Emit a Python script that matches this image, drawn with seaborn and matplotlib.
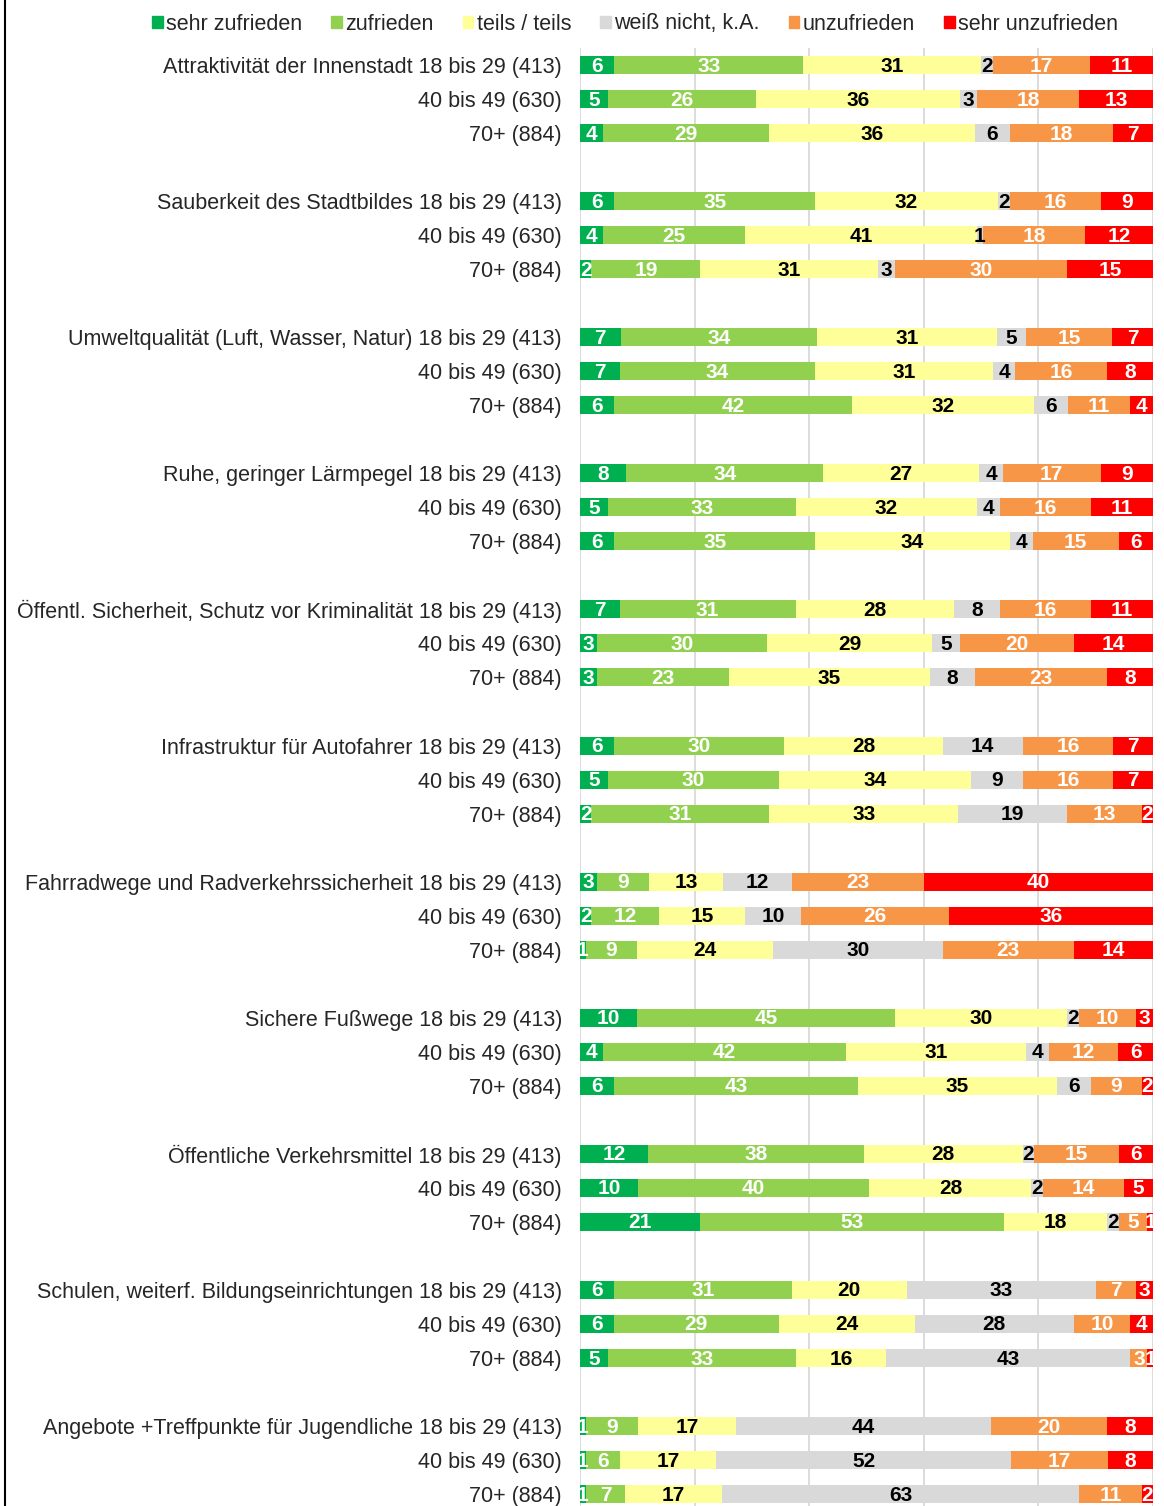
# Zufriedenheit nach Altersgruppen - gestapelte Balken (100 %)

import pandas as pd
import matplotlib.pyplot as plt
import matplotlib.lines as mlines
import matplotlib.patches as mpatches
import seaborn as sns

# Data
themes = [
    'Attraktivität der Innenstadt',
    'Sauberkeit des Stadtbildes',
    'Umweltqualität (Luft, Wasser, Natur)',
    'Ruhe, geringer Lärmpegel',
    'Öffentl. Sicherheit, Schutz vor Kriminalität',
    'Infrastruktur für Autofahrer',
    'Fahrradwege und Radverkehrssicherheit',
    'Sichere Fußwege',
    'Öffentliche Verkehrsmittel',
    'Schulen, weiterf. Bildungseinrichtungen',
    'Angebote +Treffpunkte für Jugendliche',
]
age_groups = ['18 bis 29 (413)', '40 bis 49 (630)', '70+ (884)']
categories = ['sehr zufrieden', 'zufrieden', 'teils / teils', 'weiß nicht, k.A.',
              'unzufrieden', 'sehr unzufrieden']

sehr_zufrieden = [6, 5, 4, 6, 4, 2, 7, 7, 6, 8, 5, 6, 7, 3, 3, 6, 5, 2,
                  3, 2, 1, 10, 4, 6, 12, 10, 21, 6, 6, 5, 1, 1, 1]
zufrieden = [33, 26, 29, 35, 25, 19, 34, 34, 42, 34, 33, 35, 31, 30, 23, 30, 30, 31,
             9, 12, 9, 45, 42, 43, 38, 40, 53, 31, 29, 33, 9, 6, 7]
teils = [31, 36, 36, 32, 41, 31, 31, 31, 32, 27, 32, 34, 28, 29, 35, 28, 34, 33,
         13, 15, 24, 30, 31, 35, 28, 28, 18, 20, 24, 16, 17, 17, 17]
weiss_nicht = [2, 3, 6, 2, 1, 3, 5, 4, 6, 4, 4, 4, 8, 5, 8, 14, 9, 19,
               12, 10, 30, 2, 4, 6, 2, 2, 2, 33, 28, 43, 44, 52, 63]
unzufrieden = [17, 18, 18, 16, 18, 30, 15, 16, 11, 17, 16, 15, 16, 20, 23, 16, 16, 13,
               23, 26, 23, 10, 12, 9, 15, 14, 5, 7, 10, 3, 20, 17, 11]
sehr_unzufrieden = [11, 13, 7, 9, 12, 15, 7, 8, 4, 9, 11, 6, 11, 14, 8, 7, 7, 2,
                    40, 36, 14, 3, 6, 2, 6, 5, 1, 3, 4, 1, 8, 8, 2]

colors = ['#00B050', '#92D050', '#FFFF99', '#D9D9D9', '#F79646', '#FF0000']
text_colors = ['white', 'white', 'black', 'black', 'white', 'white']

# Build table: one row per bar, with a blank slot between themes
values = pd.DataFrame({
    categories[0]: sehr_zufrieden,
    categories[1]: zufrieden,
    categories[2]: teils,
    categories[3]: weiss_nicht,
    categories[4]: unzufrieden,
    categories[5]: sehr_unzufrieden,
})
values['pos'] = [4 * (i // 3) + i % 3 for i in range(len(values))]
labels = []
for t in themes:
    labels += [t + ' ' + age_groups[0], age_groups[1], age_groups[2]]
values['label'] = labels

# Bars are shares of 100 % (rounded numbers do not always add to 100)
shares = values[categories].div(values[categories].sum(axis=1), axis=0) * 100
cum = shares.cumsum(axis=1)
cum['pos'] = values['pos']

sns.set_style('white')
plt.rcParams['font.family'] = ['Liberation Sans', 'DejaVu Sans']

fig = plt.figure(figsize=(11.64, 15.06), dpi=100)
ax = fig.add_axes([580 / 1164, 0, 573 / 1164, (1506 - 48) / 1506])

# Stacked bars: draw cumulative totals from the last category backwards
for cat, col in reversed(list(zip(categories, colors))):
    sns.barplot(data=cum, x=cat, y='pos', orient='y', native_scale=True,
                color=col, saturation=1, width=0.53, errorbar=None,
                linewidth=0, ax=ax)

# Value labels in the middle of each segment
for i, row in values.iterrows():
    for cat, tc in zip(categories, text_colors):
        xc = cum.loc[i, cat] - shares.loc[i, cat] / 2
        ax.text(xc, row['pos'] + 0.03, str(row[cat]), ha='center', va='center',
                color=tc, fontsize=15, fontweight='bold')

ax.set_xlim(0, 100)
ax.set_ylim(42.35, -0.5)
ax.set_xticks([0, 20, 40, 60, 80, 100])
ax.set_xticklabels([])
ax.xaxis.grid(True, color='#D9D9D9', linewidth=1.3)
ax.yaxis.grid(False)
ax.set_axisbelow(True)
ax.set_yticks(values['pos'])
ax.set_yticklabels(values['label'], fontsize=15.5)
ax.tick_params(axis='y', length=0, pad=13)
ax.tick_params(axis='x', length=0)
ax.set_xlabel('')
ax.set_ylabel('')
for s in ax.spines.values():
    s.set_visible(False)

# Legend
handles = [mpatches.Patch(color=c, label=l) for c, l in zip(colors, categories)]
fig.legend(handles=handles, loc='center', bbox_to_anchor=(635 / 1164, 1 - 24 / 1506),
           ncol=6, frameon=False, fontsize=15.5, handlelength=0.5, handleheight=0.5,
           handletextpad=0.15, columnspacing=1.35)

# Left frame line of the chart area
fig.add_artist(mlines.Line2D([4.5 / 1164, 4.5 / 1164], [0, 1], color='black',
                             linewidth=1.5, transform=fig.transFigure))

plt.savefig('out.png', dpi=100)
